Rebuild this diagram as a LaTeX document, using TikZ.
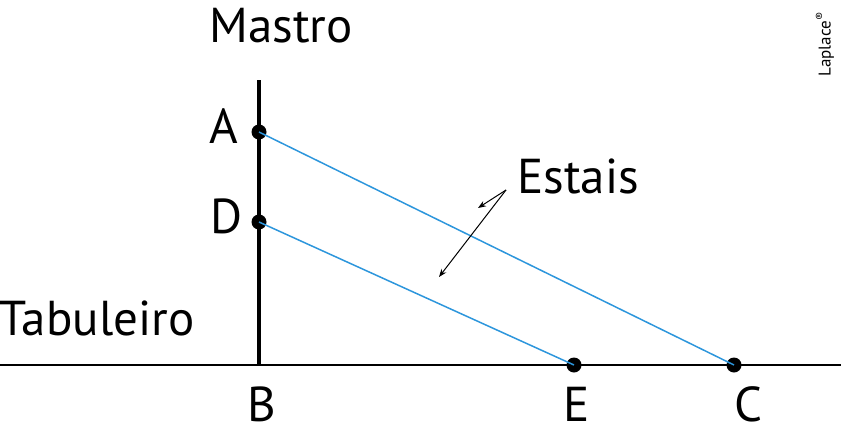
\documentclass[tikz,border=0pt]{standalone}
\usepackage{fontspec}
\usetikzlibrary{arrows.meta}
\setmainfont{PT Sans}
\definecolor{stay}{RGB}{45,150,220}
\begin{document}
\begin{tikzpicture}[x=1pt,y=-1pt,
  lbl/.style={font=\fontsize{49}{52}\selectfont, inner sep=0pt},
  blbl/.style={lbl, anchor=base, text depth=0pt},
  dot/.style={circle, fill=black, inner sep=0pt, minimum size=15pt},
  cable/.style={stay, line width=1.5pt},
  ptr/.style={-{Stealth[length=8pt,width=6pt]}, line width=1pt}]
\useasboundingbox (0,0) rectangle (841,434);
% deck and mast
\coordinate (deckL) at (0,365);
\coordinate (deckR) at (841,365);
\coordinate (mastT) at (259,80);
\coordinate (B) at (259,365);
\draw[line width=1.5pt] (deckL) -- (deckR);
\draw[line width=3.5pt] (mastT) -- (B);
% points
\node[dot] (A) at (259,132) {};
\node[dot] (D) at (259,222) {};
\node[dot] (E) at (574,365) {};
\node[dot] (C) at (734,365) {};
\draw[cable] (A.center) -- (C.center);
\draw[cable] (D.center) -- (E.center);
% labels
\node[lbl] (tMastro) at (281,26) {Mastro};
\node[lbl] (tA) at (224,126) {A};
\node[lbl] (tD) at (227,216) {D};
\node[blbl] (tB) at (262,421) {B};
\node[blbl] (tE) at (577,421) {E};
\node[blbl] (tC) at (748,421) {C};
\node[lbl] (tTab) at (97,318) {Tabuleiro};
\node[lbl] (tEst) at (578,176) {Estais};
% pointers
\coordinate (p0) at (506,190);
\coordinate (p1) at (478,208);
\coordinate (p2) at (439,277);
\draw[ptr] (p0) -- (p1);
\draw[ptr] (p0) -- (p2);
% logo
\node[rotate=90, font=\fontsize{17}{19}\selectfont, inner sep=0pt] (logo) at (825,44) {Laplace\textsuperscript{\textregistered}};
\end{tikzpicture}
\end{document}
